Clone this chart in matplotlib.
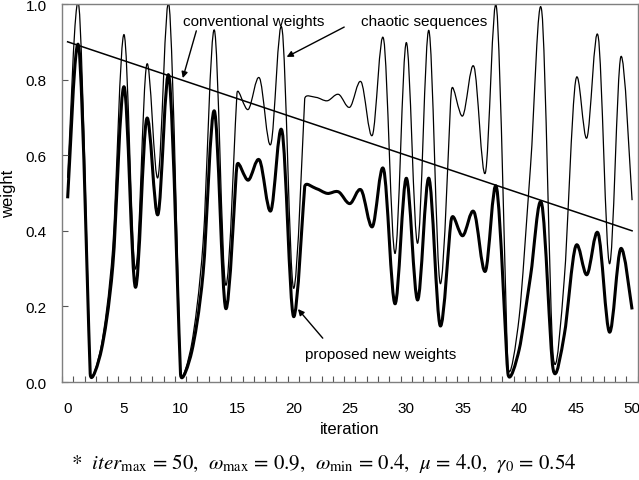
import matplotlib
matplotlib.use("Agg")
import matplotlib.pyplot as plt
from matplotlib.path import Path
from matplotlib.patches import PathPatch
from matplotlib.ticker import MultipleLocator
import numpy as np

plt.rcParams['font.family'] = ['Liberation Sans', 'DejaVu Sans']
plt.rcParams['mathtext.fontset'] = 'stix'

# iteration 0..50
iteration = list(range(51))

# chaotic sequence (thin line)
chaotic = [0.540, 0.994, 0.025, 0.099, 0.357, 0.919, 0.299, 0.839, 0.541, 0.993,
           0.026, 0.103, 0.369, 0.931, 0.257, 0.764, 0.721, 0.804, 0.629, 0.933,
           0.249, 0.749, 0.753, 0.744, 0.761, 0.727, 0.794, 0.653, 0.906, 0.340,
           0.898, 0.367, 0.930, 0.261, 0.772, 0.704, 0.834, 0.553, 0.989, 0.045,
           0.172, 0.569, 0.981, 0.074, 0.275, 0.797, 0.646, 0.914, 0.313, 0.860,
           0.481]

# proposed new weights (thick line)
proposed = [0.486, 0.884, 0.022, 0.086, 0.307, 0.781, 0.251, 0.696, 0.443, 0.805,
            0.021, 0.081, 0.288, 0.717, 0.195, 0.573, 0.534, 0.587, 0.453, 0.663,
            0.174, 0.517, 0.512, 0.499, 0.503, 0.472, 0.508, 0.411, 0.562, 0.207,
            0.539, 0.217, 0.539, 0.149, 0.432, 0.387, 0.450, 0.293, 0.514, 0.023,
            0.086, 0.279, 0.471, 0.035, 0.126, 0.359, 0.284, 0.393, 0.132, 0.353,
            0.192]

# conventional weights (straight line)
conv_iter = [0, 50]
conventional = [0.9, 0.4]


def smooth_path(ax, xs, ys):
    # excel style smoothed line: bezier segments, tangent 1/6 of the
    # neighbour span, limited to half of the shorter chord (in pixels)
    p = ax.transData.transform(np.column_stack([xs, ys]))
    n = len(p)

    def tang(i):
        a = p[max(i - 1, 0)]
        b = p[min(i + 1, n - 1)]
        t = (b - a) / 6.0
        d1 = np.hypot(*(p[i] - a)) if i > 0 else np.inf
        d2 = np.hypot(*(b - p[i])) if i < n - 1 else np.inf
        lim = 0.5 * min(d1, d2)
        L = np.hypot(*t)
        if L > lim and L > 0:
            t = t * lim / L
        return t

    T = [tang(i) for i in range(n)]
    verts = [p[0]]
    codes = [Path.MOVETO]
    for i in range(n - 1):
        verts += [p[i] + T[i], p[i + 1] - T[i + 1], p[i + 1]]
        codes += [Path.CURVE4] * 3
    verts = ax.transData.inverted().transform(np.array(verts))
    return Path(verts, codes)


fig = plt.figure(figsize=(6.39, 4.81), dpi=100)
ax = fig.add_axes([0.097, 0.2037, 0.901, 0.7859])
ax.set_xlim(-0.5, 50.5)
ax.set_ylim(0, 1.0)

ax.add_patch(PathPatch(smooth_path(ax, iteration, chaotic), fill=False, lw=0.9,
                       edgecolor='black', joinstyle='round'))
ax.add_patch(PathPatch(smooth_path(ax, iteration, proposed), fill=False, lw=2.2,
                       edgecolor='black', joinstyle='round'))
ax.plot(conv_iter, conventional, color='black', lw=1.1)

ax.xaxis.set_major_locator(MultipleLocator(5))
ax.xaxis.set_minor_locator(MultipleLocator(1, offset=0.5))
ax.yaxis.set_major_locator(MultipleLocator(0.2))
ax.yaxis.set_major_formatter(plt.FormatStrFormatter('%.1f'))

ax.tick_params(axis='x', which='major', length=0, pad=14, labelsize=11)
ax.tick_params(axis='x', which='minor', length=4, direction='in', color='#555555', width=0.8)
ax.tick_params(axis='y', which='major', length=4, direction='in', pad=11, labelsize=11,
               color='#555555', width=0.8)
for s in ax.spines.values():
    s.set_color('#7f7f7f')
    s.set_linewidth(1.0)

ax.set_xlabel('iteration', fontsize=12, labelpad=4)
ax.set_ylabel('weight', fontsize=12, labelpad=7)

arrow = dict(arrowstyle='-|>', color='black', lw=1.0, mutation_scale=9, shrinkA=0, shrinkB=0)
ax.text(16.5, 0.955, 'conventional weights', ha='center', va='center', fontsize=11)
ax.annotate('', xy=(10.2, 0.804), xytext=(11.4, 0.929), arrowprops=arrow)
ax.text(31.6, 0.955, 'chaotic sequences', ha='center', va='center', fontsize=11)
ax.annotate('', xy=(19.4, 0.860), xytext=(24.5, 0.939), arrowprops=arrow)
ax.text(27.7, 0.074, 'proposed new weights', ha='center', va='center', fontsize=11)
ax.annotate('', xy=(20.4, 0.193), xytext=(22.6, 0.116), arrowprops=arrow)

fig.text(0.506, 0.037,
         r'*  $iter_{\max}$ = 50,  $\omega_{\max}$ = 0.9,  $\omega_{\min}$ = 0.4,  $\mu$ = 4.0,  $\gamma_0$ = 0.54',
         ha='center', va='center', fontsize=15, family='STIXGeneral')

fig.savefig('out.png')
